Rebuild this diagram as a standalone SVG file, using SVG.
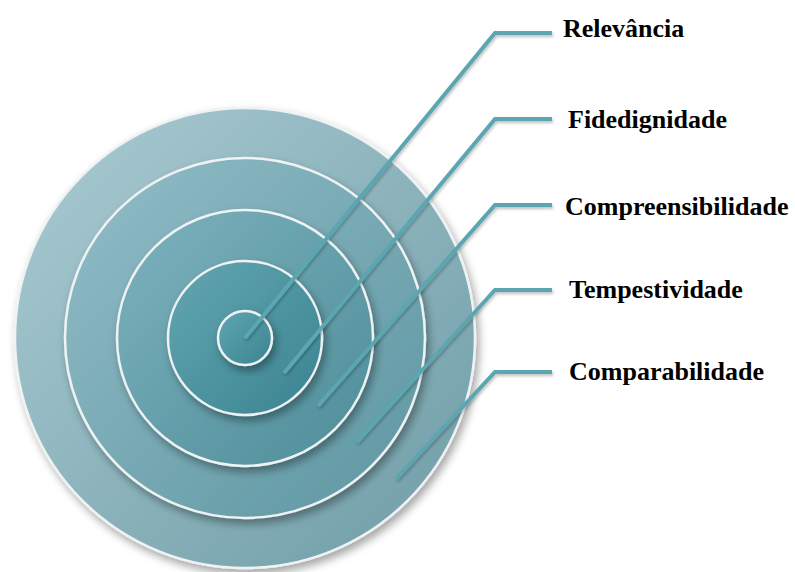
<svg xmlns="http://www.w3.org/2000/svg" width="795" height="572" viewBox="0 0 795 572">
<style>
.ring{stroke:#eef2f3;stroke-width:2.5}
.conn{fill:none;stroke:#5ba6b2;stroke-width:4;stroke-linejoin:miter}
.lbl{font-weight:bold;font-size:26px;fill:#000}
</style>
<defs>
<filter id="sh" x="-20%" y="-20%" width="140%" height="140%">
<feDropShadow dx="3" dy="5" stdDeviation="4" flood-color="#000" flood-opacity="0.35"/>
</filter>
<filter id="lsh" x="-20%" y="-20%" width="140%" height="140%">
<feDropShadow dx="1" dy="2" stdDeviation="1.5" flood-color="#000" flood-opacity="0.25"/>
</filter>
<linearGradient id="g1" x1="0" y1="0" x2="1" y2="1">
<stop offset="0" stop-color="#abcbd3"/><stop offset="1" stop-color="#6e9ca6"/>
</linearGradient>
<linearGradient id="g2" x1="0" y1="0" x2="1" y2="1">
<stop offset="0" stop-color="#92bdc7"/><stop offset="1" stop-color="#5d96a1"/>
</linearGradient>
<linearGradient id="g3" x1="0" y1="0" x2="1" y2="1">
<stop offset="0" stop-color="#7cb2bd"/><stop offset="1" stop-color="#4e8d99"/>
</linearGradient>
<linearGradient id="g4" x1="0" y1="0" x2="1" y2="1">
<stop offset="0" stop-color="#63a6b2"/><stop offset="1" stop-color="#3a8390"/>
</linearGradient>
<linearGradient id="g5" x1="0" y1="0" x2="1" y2="1">
<stop offset="0" stop-color="#5fa6b2"/><stop offset="1" stop-color="#3a8490"/>
</linearGradient>
</defs>
<g id="ring-comparabilidade"><circle class="ring" cx="245" cy="338" r="230" fill="url(#g1)" filter="url(#sh)"/></g>
<g id="ring-tempestividade"><circle class="ring" cx="245" cy="338" r="180" fill="url(#g2)" filter="url(#sh)"/></g>
<g id="ring-compreensibilidade"><circle class="ring" cx="245" cy="338" r="128" fill="url(#g3)" filter="url(#sh)"/></g>
<g id="ring-fidedignidade"><circle class="ring" cx="245" cy="338" r="77" fill="url(#g4)" filter="url(#sh)"/></g>
<g id="ring-relevancia"><circle class="ring" cx="245" cy="338" r="27" fill="url(#g5)" filter="url(#sh)"/></g>
<g id="connectors" filter="url(#lsh)">
<polyline class="conn" points="245,338 495,33 552,33"/>
<polyline class="conn" points="284,373 495,119 552,119"/>
<polyline class="conn" points="318,406 495,205 552,205"/>
<polyline class="conn" points="357,442 495,290 552,290"/>
<polyline class="conn" points="396,479 495,372 552,372"/>
</g>
<g id="labels" font-family="Liberation Serif, Times New Roman, serif">
<text class="lbl" x="563" y="37">Relevância</text>
<text class="lbl" x="568" y="128">Fidedignidade</text>
<text class="lbl" x="565" y="215">Compreensibilidade</text>
<text class="lbl" x="569" y="298">Tempestividade</text>
<text class="lbl" x="569" y="380">Comparabilidade</text>
</g>
</svg>
